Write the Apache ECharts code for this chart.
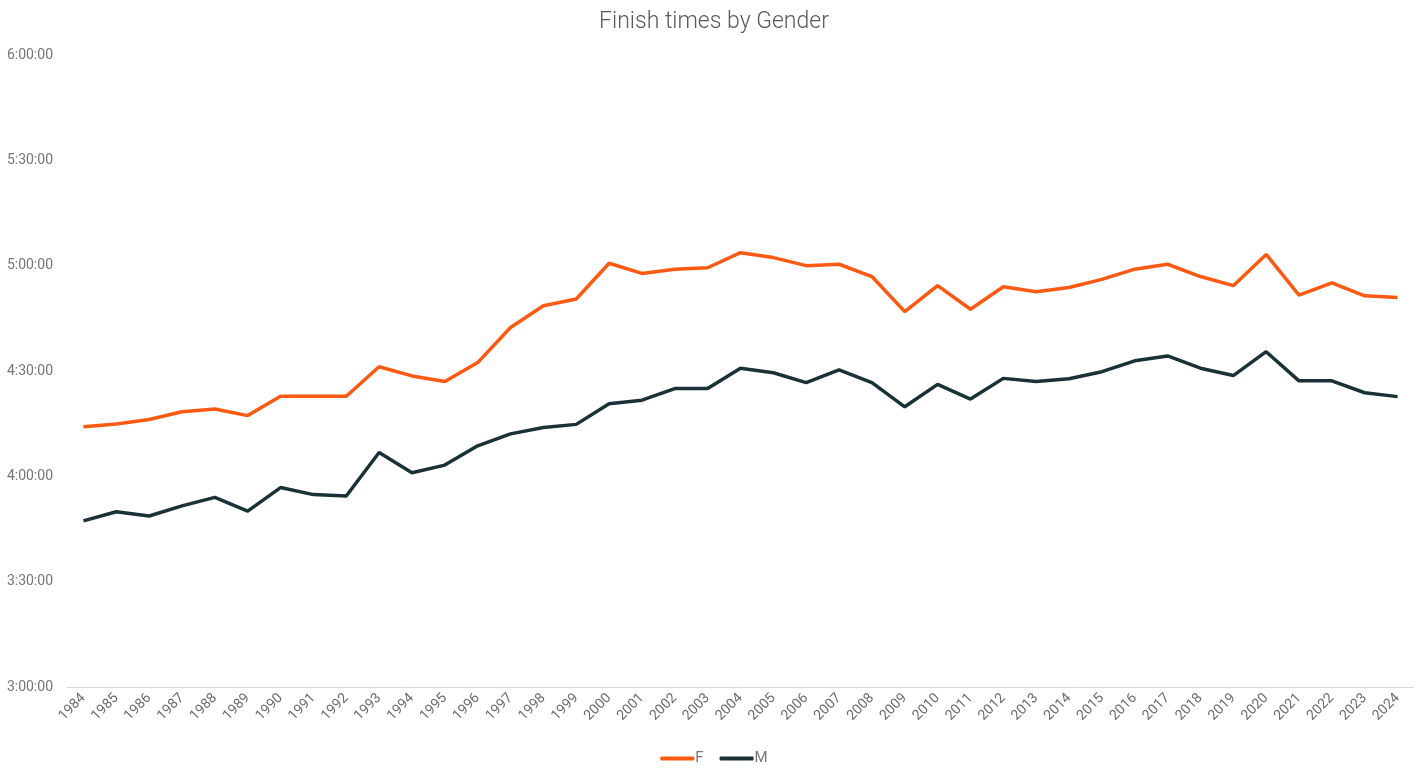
<!DOCTYPE html>
<html>
<head>
<meta charset="utf-8">
<script src="https://cdn.jsdelivr.net/npm/echarts@6/dist/echarts.min.js"></script>
<style>
  html, body { margin: 0; padding: 0; background: #fff; }
  #chart { width: 1428px; height: 782px; }
</style>
</head>
<body>
<div id="chart"></div>
<script>
var years = ['1984', '1985', '1986', '1987', '1988', '1989', '1990', '1991', '1992', '1993',
  '1994', '1995', '1996', '1997', '1998', '1999', '2000', '2001', '2002', '2003',
  '2004', '2005', '2006', '2007', '2008', '2009', '2010', '2011', '2012', '2013',
  '2014', '2015', '2016', '2017', '2018', '2019', '2020', '2021', '2022', '2023', '2024'];

// finish times, h:mm:ss
var femaleTimes = ['4:14:06', '4:14:54', '4:16:12', '4:18:24', '4:19:12', '4:17:18', '4:22:48', '4:22:48', '4:22:48', '4:31:12',
  '4:28:36', '4:27:00', '4:32:24', '4:42:24', '4:48:36', '4:50:30', '5:00:42', '4:57:48', '4:59:00', '4:59:24',
  '5:03:42', '5:02:18', '5:00:00', '5:00:24', '4:56:54', '4:46:54', '4:54:18', '4:47:36', '4:54:00', '4:52:36',
  '4:53:48', '4:56:06', '4:59:00', '5:00:24', '4:56:54', '4:54:18', '5:03:12', '4:51:36', '4:55:06', '4:51:24', '4:50:54'];

var maleTimes = ['3:47:18', '3:49:54', '3:48:42', '3:51:36', '3:54:00', '3:50:06', '3:56:48', '3:54:48', '3:54:24', '4:06:48',
  '4:01:00', '4:03:12', '4:08:42', '4:12:06', '4:13:54', '4:14:48', '4:20:42', '4:21:42', '4:25:00', '4:25:00',
  '4:30:48', '4:29:30', '4:26:42', '4:30:18', '4:26:42', '4:19:48', '4:26:12', '4:22:00', '4:27:54', '4:27:00',
  '4:27:48', '4:29:48', '4:32:54', '4:34:18', '4:30:48', '4:28:42', '4:35:30', '4:27:12', '4:27:12', '4:23:48', '4:22:42'];

var yMin = 3 * 3600;
var yMax = 6 * 3600;
var yStep = 30 * 60;

function toSeconds(s) {
  var p = s.split(':');
  return (+p[0]) * 3600 + (+p[1]) * 60 + (+p[2]);
}

function fmt(v) {
  var h = Math.floor(v / 3600);
  var m = Math.floor((v % 3600) / 60);
  var s = Math.round(v % 60);
  return h + ':' + (m < 10 ? '0' : '') + m + ':' + (s < 10 ? '0' : '') + s;
}

var chart = echarts.init(document.getElementById('chart'));

var option = {
  backgroundColor: '#fff',
  textStyle: { fontFamily: 'Roboto' },
  color: ['#fc5a12', '#1b3138'],
  title: {
    text: 'Finish times by Gender',
    left: 'center',
    top: 6,
    textStyle: {
      fontFamily: 'Roboto',
      fontWeight: 300,
      fontSize: 23,
      color: '#595959'
    }
  },
  legend: {
    bottom: 11,
    left: 'center',
    itemWidth: 34,
    itemHeight: 4,
    itemGap: 16,
    icon: 'roundRect',
    textStyle: { color: '#757575', fontSize: 15, padding: [0, 0, 0, -4] },
    data: ['F', 'M']
  },
  grid: {
    left: 67,
    right: 14,
    top: 55,
    bottom: 95
  },
  tooltip: {
    trigger: 'axis',
    valueFormatter: fmt
  },
  xAxis: {
    type: 'category',
    data: years,
    boundaryGap: true,
    axisLine: { lineStyle: { color: '#d9d9d9', width: 1 } },
    axisTick: { show: false },
    axisLabel: {
      rotate: 45,
      interval: 0,
      color: '#6b6b6b',
      fontSize: 14,
      margin: 9
    }
  },
  yAxis: {
    type: 'value',
    min: yMin,
    max: yMax,
    interval: yStep,
    axisLine: { show: false },
    axisTick: { show: false },
    splitLine: { show: false },
    axisLabel: {
      formatter: fmt,
      color: '#757575',
      fontSize: 14,
      margin: 14
    }
  },
  series: [{
    name: 'F',
    type: 'line',
    data: femaleTimes.map(toSeconds),
    symbol: 'none',
    lineStyle: { width: 3.5 }
  }, {
    name: 'M',
    type: 'line',
    data: maleTimes.map(toSeconds),
    symbol: 'none',
    lineStyle: { width: 3.5 }
  }]
};

chart.setOption(option);
</script>
</body>
</html>
